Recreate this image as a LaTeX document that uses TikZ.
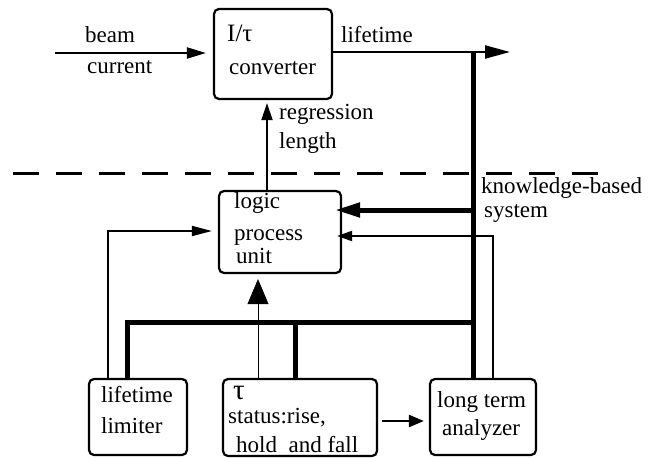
\documentclass[tikz,border=0pt]{standalone}
\usepackage{fontspec}
\setmainfont{Liberation Serif}
\usetikzlibrary{arrows.meta}
\begin{document}
\begin{tikzpicture}[x=1pt,y=-1pt,
  box/.style={draw, line width=2.2pt, rounded corners=5pt, inner sep=0pt},
  lbl/.style={anchor=base west, inner sep=0pt, font=\fontsize{23}{27}\selectfont},
  thick bus/.style={line width=5pt}]
\useasboundingbox (0,0) rectangle (662,458);
% boxes
\node[box, minimum width=118pt, minimum height=90pt] (conv) at (273,54) {};
\node[box, minimum width=122pt, minimum height=82pt] (logic) at (280,232) {};
\node[box, minimum width=98pt, minimum height=76pt] (limiter) at (138,417) {};
\node[box, minimum width=154pt, minimum height=77pt] (taubox) at (300,417.5) {};
\node[box, minimum width=106pt, minimum height=76pt] (analyzer) at (483,417) {};
% texts
\node[lbl] (tbeam) at (85,42) {beam};
\node[lbl] (tcurrent) at (87,73) {current};
\node[lbl, font=\fontsize{25}{29}\selectfont] (titau) at (227,41) {I/τ};
\node[lbl] (tconv) at (229,74) {converter};
\node[lbl] (tlife) at (341,42) {lifetime};
\node[lbl] (treg) at (279,119) {regression};
\node[lbl] (tlen) at (279,148) {length};
\node[lbl] (tkb) at (481,193) {knowledge-based};
\node[lbl] (tsys) at (484,217) {system};
\node[lbl] (tlogic) at (234,208) {logic};
\node[lbl] (tproc) at (234,240) {process};
\node[lbl] (tunit) at (236,263) {unit};
\node[lbl] (tlt) at (101,402) {lifetime};
\node[lbl] (tlim) at (101,433) {limiter};
\node[lbl, font=\fontsize{29}{33}\selectfont] (ttau) at (233,399) {τ};
\node[lbl] (tstat) at (228,423) {status:rise,};
\node[lbl] (thold) at (236,452) {hold~ and fall};
\node[lbl] (tlong) at (437,407) {long term};
\node[lbl] (tana) at (442,435) {analyzer};
% coordinates
\coordinate (bstart) at (55,53);
\coordinate (lend) at (510,52);
\coordinate (busx) at (473.5,0);
\coordinate (regx) at (267,0);
\coordinate (thinx) at (493,0);
\coordinate (limx) at (108,0);
\coordinate (taux) at (258,0);
\coordinate (b1x) at (127,0);
\coordinate (b2x) at (295,0);
\coordinate (busy) at (0,322);
\coordinate (kby) at (0,210);
\coordinate (thy) at (0,236);
\coordinate (limy) at (0,231);
\coordinate (tay) at (0,421);
\coordinate (dl) at (13,173);
\coordinate (dr) at (613,173);
% dashed separator
\draw[line width=3pt, dash pattern=on 26pt off 17pt] (dl) -- (dr);
% connectors
\draw[line width=2pt, -{Triangle[length=19pt,width=11pt]}, shorten >=7pt] (bstart) -- (bstart -| conv.west);
\draw[line width=2.4pt, -{Triangle[length=25pt,width=13pt]}] (conv.east |- lend) -- (lend);
\draw[thick bus] (busx |- lend) -- (busx |- analyzer.north);
\draw[line width=2pt, -{Triangle[length=17pt,width=11pt]}, shorten >=3pt] (regx |- logic.north) -- (regx |- conv.south);
\draw[thick bus, -{Triangle[length=25pt,width=14pt]}, shorten >=-7pt] (busx |- kby) -- (logic.east |- kby);
\draw[line width=2pt, -{Triangle[length=15pt,width=10pt]}, shorten >=-5pt] (thinx |- analyzer.north) |- (logic.east |- thy);
\draw[line width=1.8pt, -{Triangle[length=20pt,width=10pt]}, shorten >=6pt] (limx |- limiter.north) |- (logic.west |- limy);
\draw[line width=0.7pt, -{Triangle[length=25pt,width=21pt]}, shorten >=5pt] (taux |- taubox.north) -- (taux |- logic.south);
\draw[thick bus] (b1x |- limiter.north) |- (busx |- busy);
\draw[thick bus] (b2x |- busy) -- (b2x |- taubox.north);
\draw[line width=2.4pt, -{Triangle[length=15pt,width=12pt]}, shorten <=4pt, shorten >=5pt] (taubox.east |- tay) -- (analyzer.west |- tay);
\end{tikzpicture}
\end{document}
